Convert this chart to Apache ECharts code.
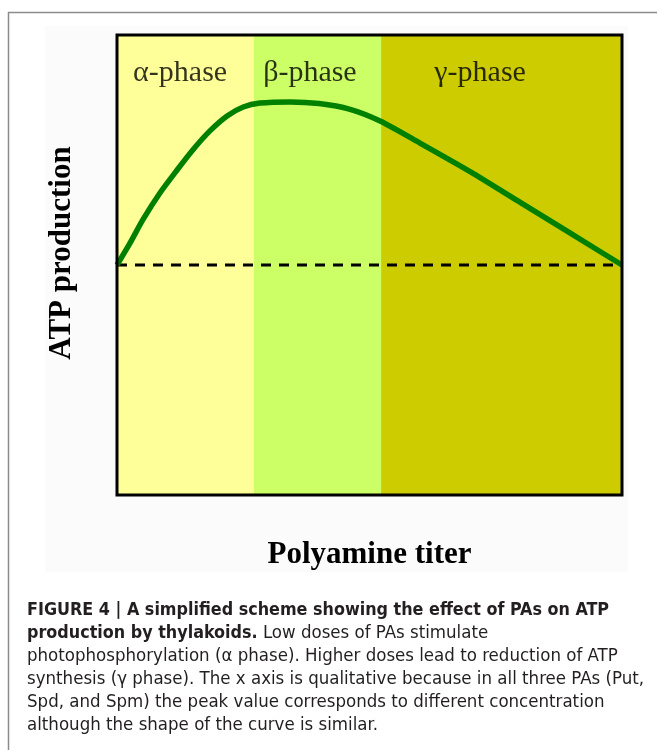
<!DOCTYPE html>
<html>
<head>
<meta charset="utf-8">
<script src="https://cdn.jsdelivr.net/npm/echarts@6/dist/echarts.min.js"></script>
<style>
  html, body { margin: 0; padding: 0; background: #fff; }
  #main { width: 657px; height: 750px; }
</style>
</head>
<body>
<div id="main"></div>
<script>
// ATP production vs polyamine titer (qualitative scheme)
// x: polyamine titer 0-100 (arbitrary), y: ATP production, 0 = control (dashed line)
var curveX = [0, 2.6, 5.1, 8.5, 11.9, 15.0, 18.4, 21.8, 25.0, 28.3, 34.3, 40.0, 46.0, 52.1, 60.0, 70.0, 80.0, 90.0, 100];
var curveY = [0, 9.6, 19.6, 31.3, 41.3, 50.0, 58.3, 64.8, 68.7, 70.4, 70.9, 70.2, 67.8, 62.6, 53.0, 40.5, 27.0, 13.5, 0];

// phase bands
var phaseNames = ['α-phase', 'β-phase', 'γ-phase'];
var phaseFrom = [0, 27.1, 52.3];
var phaseTo = [27.1, 52.3, 100];
var phaseColors = ['#ffff99', '#ccff66', '#cccc00'];
var phaseLabelX = [12.5, 38.2, 71.9];
var phaseLabelY = 83.5;

var baseline = 0;

var caption = [
  '{b|FIGURE 4 | A simplified scheme showing the effect of PAs on ATP}',
  '{b|production by thylakoids.}{n| Low doses of PAs stimulate}',
  '{n|photophosphorylation (α phase). Higher doses lead to reduction of ATP}',
  '{n|synthesis (γ phase). The x axis is qualitative because in all three PAs (Put,}',
  '{n|Spd, and Spm) the peak value corresponds to different concentration}',
  '{n|although the shape of the curve is similar.}'
].join('\n');

var serif = '"Liberation Serif", "Times New Roman", serif';
var capFont = '"DejaVu Sans Condensed", "Liberation Sans", sans-serif';

var curveData = [];
for (var i = 0; i < curveX.length; i++) {
  curveData.push([curveX[i], curveY[i]]);
}
var bands = [];
for (var k = 0; k < phaseNames.length; k++) {
  bands.push([
    { xAxis: phaseFrom[k], itemStyle: { color: phaseColors[k] } },
    { xAxis: phaseTo[k] }
  ]);
}
var labelData = [];
for (var j = 0; j < phaseNames.length; j++) {
  labelData.push({ value: [phaseLabelX[j], phaseLabelY], name: phaseNames[j] });
}

var chart = echarts.init(document.getElementById('main'));
var option = {
  animation: false,
  backgroundColor: '#fff',
  graphic: [
    // outer frame of the figure box
    { type: 'line', shape: { x1: 8, y1: 12.5, x2: 657, y2: 12.5 }, style: { stroke: '#8c8c8c', lineWidth: 1.5 }, z: -10 },
    { type: 'line', shape: { x1: 8.5, y1: 12, x2: 8.5, y2: 750 }, style: { stroke: '#8c8c8c', lineWidth: 1.5 }, z: -10 },
    // faint panel behind the artwork
    { type: 'rect', shape: { x: 45, y: 26, width: 583, height: 546 }, style: { fill: '#fbfbfb' }, z: -20 }
  ],
  title: {
    text: caption,
    left: 22,
    top: 594,
    textStyle: {
      rich: {
        b: { fontFamily: capFont, fontWeight: 'bold', fontSize: 17.8, color: '#231f20', lineHeight: 23 },
        n: { fontFamily: capFont, fontWeight: 'normal', fontSize: 18.5, color: '#231f20', lineHeight: 23 }
      }
    }
  },
  grid: {
    left: 117, right: 35, top: 35, bottom: 255,
    show: true, borderColor: '#000', borderWidth: 3,
    backgroundColor: 'transparent', z: 10
  },
  xAxis: {
    type: 'value', min: 0, max: 100,
    name: 'Polyamine titer', nameLocation: 'middle', nameGap: 44,
    nameTextStyle: { fontFamily: serif, fontWeight: 'bold', fontSize: 31, color: '#000' },
    axisLine: { show: false }, axisTick: { show: false },
    axisLabel: { show: false }, splitLine: { show: false }
  },
  yAxis: {
    type: 'value', min: -100, max: 100,
    name: 'ATP production', nameLocation: 'middle', nameGap: 40, nameRotate: 90,
    nameTextStyle: { fontFamily: serif, fontWeight: 'bold', fontSize: 31, color: '#000', padding: [0, 0, 0, 24] },
    axisLine: { show: false }, axisTick: { show: false },
    axisLabel: { show: false }, splitLine: { show: false }
  },
  series: [
    {
      name: 'bands', type: 'line', data: [], silent: true,
      markArea: { silent: true, itemStyle: { opacity: 1 }, data: bands }
    },
    {
      name: 'control', type: 'line', silent: true, symbol: 'none', z: 3,
      data: [[0, baseline], [100, baseline]],
      lineStyle: { color: '#000', width: 3, type: [10, 8] }
    },
    {
      name: 'ATP', type: 'line', symbol: 'none', smooth: 0.25, z: 4,
      data: curveData,
      lineStyle: { color: '#008000', width: 5.5 }
    },
    {
      name: 'phases', type: 'scatter', symbolSize: 0, silent: true, z: 5,
      data: labelData,
      label: {
        show: true, position: 'inside', formatter: '{b}',
        fontFamily: serif, fontSize: 30, color: '#000'
      }
    }
  ]
};
chart.setOption(option);
</script>
</body>
</html>
